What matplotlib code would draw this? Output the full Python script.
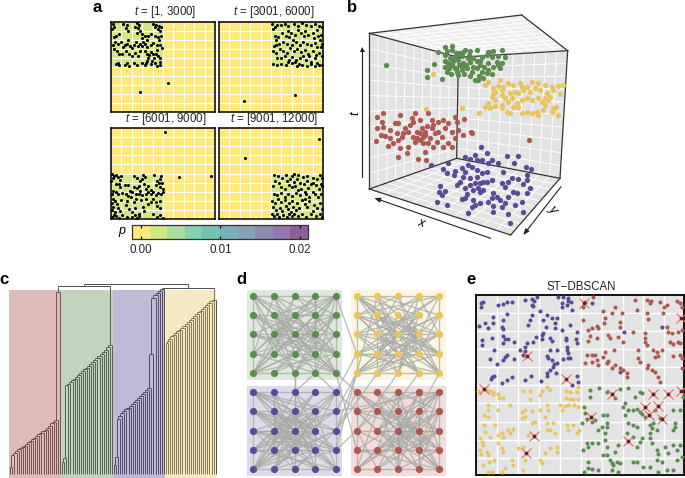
#!/usr/bin/env python3
import numpy as np
import matplotlib
matplotlib.use('Agg')
import matplotlib.pyplot as plt
from matplotlib.collections import LineCollection
from matplotlib.colors import BoundaryNorm, ListedColormap
from matplotlib.cm import ScalarMappable
from matplotlib.patches import Polygon, Rectangle

plt.rcParams['font.family'] = ['Liberation Sans', 'DejaVu Sans']
plt.rcParams['mathtext.fontset'] = 'custom'
plt.rcParams['mathtext.it'] = 'Liberation Sans:italic'
plt.rcParams['mathtext.rm'] = 'Liberation Sans'

W, H = 685, 478
GREEN, YELLOW, PURPLE, RED = '#5B8C50', '#E8C55F', '#5D4A96', '#AD5850'

# --- panel a: locations seen per time window ---
A_TITLES = ['[1, 3000]', '[3001, 6000]', '[6001, 9000]', '[9001, 12000]']
A1 = [(2,98),(3,95),(1,92),(12,98),(15,97),(14,93),(16,90),(8,87),(5,85),(3,83),(25,99),(27,97),(23,95),(26,93),(28,90),(25,88),(40,98),(43,97),(46,96),(42,94),(45,92),(48,94),(47,90),(30,87),(33,85),(36,84),(38,87),(30,82),(35,80),(42,85),(45,83),(48,85),(46,80),(4,78),(7,76),(2,74),(10,78),(13,75),(12,72),(16,80),(15,76),(18,73),(20,71),(22,75),(24,78),(28,76),(26,73),(30,73),(31,78),(33,76),(35,72),(38,74),(40,77),(44,74),(47,75),(49,71),(6,68),(8,65),(3,70),(14,68),(11,64),(17,65),(20,62),(23,66),(26,62),(28,68),(33,68),(35,65),(37,63),(36,60),(38,67),(40,64),(41,60),(39,57),(43,65),(45,62),(44,69),(47,60),(35,57),(7,55),(8,52),(5,53),(15,55),(13,52),(17,51),(22,54),(25,52),(30,55),(33,52),(34,54),(38,53),(42,54),(44,51),(47,52),(47,56),(55,32),(28,22)]
A2 = [(51,98),(54,95),(52,92),(56,97),(60,97),(63,98),(66,96),(72,98),(76,96),(80,99),(84,97),(88,96),(92,98),(96,96),(99,94),(54,85),(57,83),(55,80),(61,88),(64,85),(66,90),(69,88),(67,83),(71,80),(73,86),(76,91),(79,88),(83,90),(82,84),(86,86),(90,88),(94,91),(91,82),(95,84),(98,86),(97,80),(99,76),(55,75),(53,73),(58,76),(62,78),(65,76),(70,75),(74,78),(78,75),(81,78),(85,76),(88,74),(92,77),(94,72),(98,72),(52,68),(55,66),(59,70),(62,68),(65,66),(68,71),(72,68),(75,70),(79,67),(83,69),(86,65),(90,68),(87,62),(93,63),(96,66),(99,62),(56,60),(60,60),(63,62),(67,58),(70,61),(74,58),(78,60),(81,62),(84,58),(88,56),(92,60),(52,53),(56,52),(60,53),(64,52),(70,54),(73,56),(77,53),(80,52),(85,51),(88,53),(92,51),(96,52),(99,52),(66,56),(75,51),(94,55),(24,12),(73,19)]
A3 = [(1,49),(3,47),(2,45),(5,48),(7,46),(9,43),(0,42),(10,47),(22,47),(25,45),(31,48),(33,46),(30,44),(28,42),(41,48),(48,47),(47,44),(44,42),(46,40),(49,40),(8,38),(5,38),(9,35),(13,37),(16,37),(22,35),(25,34),(27,36),(32,38),(36,36),(34,33),(38,32),(43,37),(47,35),(50,33),(2,31),(5,30),(7,27),(1,27),(11,29),(14,28),(16,25),(18,31),(20,30),(24,28),(28,31),(27,27),(30,26),(34,28),(36,30),(38,27),(40,30),(43,26),(45,29),(48,27),(50,30),(2,22),(1,18),(4,20),(6,17),(10,21),(15,20),(19,24),(22,19),(24,22),(29,21),(34,22),(38,19),(40,22),(43,19),(47,20),(2,13),(1,10),(4,8),(7,12),(9,9),(14,15),(17,11),(20,8),(23,12),(27,6),(31,13),(32,9),(36,16),(44,14),(47,12),(3,4),(1,2),(5,3),(8,1),(11,4),(15,2),(20,2),(23,4),(25,1),(27,3),(40,5),(44,2),(47,4),(50,1),(52,96),(65,46),(96,47.5)]
A4 = [(53,48),(57,47),(61,45),(64,48),(70,47),(72,49),(76,48),(81,46),(85,47),(90,45),(94,44),(97,48),(99,45),(54,42),(58,40),(65,42),(68,44),(72,41),(75,44),(78,40),(82,38),(85,42),(88,39),(90,40),(93,37),(98,38),(52,36),(60,35),(63,33),(67,37),(70,35),(73,36),(76,32),(79,33),(83,30),(86,34),(84,28),(90,30),(96,33),(99,36),(53,28),(56,26),(60,29),(63,24),(66,27),(70,25),(74,29),(78,26),(83,22),(87,24),(92,27),(95,24),(98,28),(51,20),(54,18),(57,22),(60,19),(63,21),(67,18),(70,20),(75,18),(80,21),(83,17),(87,20),(91,15),(97,18),(52,13),(55,10),(59,12),(61,9),(64,14),(66,11),(69,8),(71,13),(74,10),(77,12),(85,13),(90,9),(94,12),(99,11),(51,6),(53,3),(56,5),(58,2),(62,4),(65,2),(67,6),(70,3),(72,5),(76,3),(80,6),(84,2),(88,5),(93,3),(97,6),(99,2),(96,87.5),(25,66.5)]
# p per quadrant: rows bottom to top
A_P = [[[2e-4, 2e-4], [2.4e-3, 2e-4]], [[2e-4, 2e-4], [2e-4, 2.4e-3]],
       [[2.4e-3, 2e-4], [2e-4, 2e-4]], [[2e-4, 2.4e-3], [2e-4, 2e-4]]]
P_COLORS = ['#FFE97C', '#D3E680', '#A8DD9B', '#85D3AE', '#72C3B3',
            '#78AFB8', '#85A0B8', '#8A8CB0', '#9478AD', '#8E5F95']
P_BOUNDS = [-0.00113 + 0.002218 * i for i in range(11)]

# --- panel b: points in the projected box, picture units ---
B_GREEN = [(300,140),(322,137),(280,155),(305,152),(332,158),(360,150),(375,152),(397,150),(432,155),(445,153),(472,150),(268,192),(247,210),(245,230),(290,237),(300,165),(315,175),(330,170),(340,180),(310,190),(322,195),(300,200),(305,215),(318,222),(330,205),(345,195),(355,188),(365,205),(350,210),(358,222),(340,225),(375,185),(385,175),(395,183),(410,170),(425,165),(440,172),(460,168),(480,172),(455,185),(445,200),(465,205),(430,190),(418,200),(405,195),(395,205),(380,215),(375,228),(390,240),(402,228),(415,235),(425,220),(440,222),(430,210),(410,215),(372,165),(350,168),(368,175),(325,182),(300,183),(312,205),(335,215),(385,200),(350,200),(362,195),(405,182),(460,195),(470,190),(320,150),(342,160),(355,155),(430,155),(400,240),(123,196)]
B_YELLOW = [(430,245),(465,240),(420,255),(445,265),(460,258),(475,262),(490,250),(505,255),(525,248),(545,260),(560,245),(580,248),(600,255),(620,260),(640,258),(655,256),(450,275),(470,285),(480,295),(495,280),(510,275),(520,280),(535,270),(555,275),(570,265),(585,270),(605,280),(625,270),(645,282),(440,290),(445,282),(430,310),(435,325),(450,318),(470,315),(490,305),(500,295),(515,310),(530,300),(545,295),(560,300),(580,295),(590,305),(610,300),(600,315),(625,325),(632,320),(640,345),(620,335),(595,330),(580,345),(560,340),(545,335),(530,340),(495,340),(485,335),(470,325),(520,320),(575,335),(600,295),(450,300),(505,320),(420,320),(615,290),(470,270),(530,262),(243,327),(352,323),(403,338),(263,222)]
B_RED = [(95,352),(115,340),(110,365),(115,380),(95,385),(108,405),(92,423),(120,408),(135,390),(150,370),(165,345),(160,370),(180,385),(200,355),(210,340),(205,365),(225,360),(250,340),(260,360),(280,365),(295,360),(310,370),(330,350),(335,365),(358,357),(338,390),(355,405),(378,395),(380,400),(135,415),(130,438),(145,430),(160,420),(175,400),(190,395),(205,410),(215,395),(230,385),(245,378),(265,375),(280,395),(300,385),(320,395),(330,415),(310,430),(295,440),(275,425),(255,415),(240,405),(225,420),(210,425),(190,440),(165,445),(185,460),(160,470),(240,455),(220,478),(243,480),(265,440),(250,430),(320,440),(235,410),(195,375),(170,410),(155,400),(215,415),(235,430),(270,400),(290,410),(260,385),(225,400),(240,395),(551,420)]
B_PURPLE = [(408,442),(425,458),(360,470),(375,478),(390,465),(395,480),(412,480),(440,480),(460,488),(487,468),(520,467),(508,488),(543,500),(557,508),(545,525),(257,495),(308,490),(293,507),(305,520),(330,512),(328,525),(350,505),(370,495),(380,500),(395,510),(410,520),(425,515),(355,530),(345,545),(375,535),(390,550),(405,548),(415,545),(400,565),(385,570),(375,555),(360,565),(335,555),(285,558),(282,575),(300,572),(290,585),(275,605),(305,615),(350,597),(365,582),(360,595),(385,600),(390,615),(405,610),(430,607),(445,618),(445,578),(440,595),(455,590),(465,600),(470,550),(480,560),(490,545),(500,535),(520,538),(535,552),(545,540),(555,565),(545,580),(515,580),(505,575),(490,590),(480,610),(510,615),(530,605),(535,635),(488,642),(495,670),(445,637),(368,640),(380,620),(470,620),(440,540),(425,545),(415,570),(405,575),(395,530),(360,515),(475,515),(430,490)]

# --- panel c: merge heights of each ladder, one per added leaf ---
C_RED = [3.9,10,10.8,12,13,13.7,14.4,15,16,16.8,17.5,18.3,19,20,20.8,21.5,22.4,23.2,24.4,25.5,26.6,27.4,28.2,96]
C_GREEN = [6.5,8.3,46.6,47.5,48.4,49.3,50.2,51,52,53,54,55,56,57,58,59,60,61,62,63,64,65.5,66.8,68]
C_PURPLE = [4.7,9,29,30.5,32,33,34,35,36,37,38,39,40,41,42,43.2,44.3,45.5,63,92.6,94,95,96.2,97.3]
C_YELLOW = [69,69.8,71,72.5,73.2,74,75,76,77,78,79,80,81,82,83,84,85,86,87,88,89,90,91,91.7]
C_TOP = [98.8, 97.9, 100]

# --- panel d: graph edges, node = 5*row + col inside its block ---
D_BORDER = [(0,1),(1,2),(2,3),(3,4),(20,21),(21,22),(22,23),(23,24),(0,5),(5,10),(10,15),(15,20),(4,9),(9,14),(14,19),(19,24)]
D_GREEN = [(0,7),(0,13),(0,18),(1,8),(1,12),(1,19),(2,9),(2,14),(2,16),(3,11),(3,18),(4,6),(4,10),(4,12),(4,17),(4,23),(5,8),(5,13),(5,19),(5,24),(6,14),(6,18),(6,22),(7,9),(7,15),(7,19),(8,14),(8,16),(8,23),(9,11),(9,17),(9,21),(10,13),(10,18),(10,24),(11,19),(11,22),(12,18),(12,20),(13,15),(13,24),(14,20),(14,22),(15,18),(15,23),(16,24),(17,20),(18,21),(19,20),(19,23),(2,20),(3,15),(6,24),(1,15),(0,24),
           (9,16),(9,22),(11,14),(10,19),(12,24),(7,24),(6,23),(5,18),(1,17),(3,13),(0,12),(0,11),(4,11),(4,16),(4,21),(13,22),(8,20),(7,20),(6,19),(5,22),(3,20),(0,16),(14,18),(8,19)]
D_YELLOW = [(0,6),(0,8),(0,12),(0,17),(0,19),(1,9),(1,13),(1,20),(2,5),(2,11),(2,18),(3,10),(3,16),(4,5),(4,11),(4,15),(4,22),(5,12),(5,17),(5,23),(6,13),(6,19),(6,21),(7,14),(7,16),(7,24),(8,10),(8,20),(8,22),(9,12),(9,18),(9,15),(10,16),(10,23),(11,13),(11,24),(12,19),(12,21),(13,20),(13,17),(14,16),(14,21),(15,17),(15,24),(16,22),(17,23),(18,20),(18,24),(19,21),(3,14),(1,17),(2,24),(6,23),
            (0,13),(0,24),(5,19),(5,14),(10,14),(10,19),(11,18),(11,22),(15,19),(15,13),(16,8),(20,8),(20,12),(20,14),(21,9),(21,13),(24,0),(23,1),(22,3),(7,19)]
D_PURPLE = [(0,7),(0,9),(0,12),(0,14),(0,18),(0,23),(1,6),(1,11),(1,17),(1,24),(2,8),(2,13),(2,20),(3,7),(3,16),(3,20),(4,8),(4,11),(4,13),(4,21),(5,7),(5,12),(5,14),(5,18),(5,24),(6,13),(6,19),(6,22),(7,15),(7,17),(7,23),(8,10),(8,16),(8,24),(9,11),(9,12),(9,20),(10,12),(10,17),(10,19),(10,22),(11,18),(11,23),(12,16),(12,24),(13,15),(13,19),(13,21),(14,17),(14,20),(14,22),(15,18),(15,24),(16,19),(16,23),(17,21),(18,20),(18,22),(19,21),(20,12),(24,6),(23,8),
            (0,8),(0,13),(5,13),(5,17),(5,19),(10,13),(10,18),(15,12),(15,8),(15,7),(16,11),(20,7),(20,8),(20,13),(21,12),(21,7),(22,12),(16,6),(11,7),(12,7),(17,8),(18,7),(13,7)]
D_RED = [(0,6),(0,12),(0,13),(0,19),(0,24),(1,7),(1,14),(1,18),(1,22),(2,9),(2,10),(2,16),(3,5),(3,12),(3,17),(3,21),(4,7),(4,11),(4,16),(4,20),(4,18),(5,9),(5,13),(5,17),(5,23),(6,14),(6,18),(6,20),(7,11),(7,19),(7,24),(8,12),(8,15),(8,22),(9,16),(9,20),(9,23),(10,14),(10,17),(10,21),(11,13),(11,18),(11,24),(12,19),(12,22),(13,16),(13,20),(13,23),(14,18),(14,21),(15,17),(15,19),(15,24),(16,22),(17,23),(18,24),(19,22),(20,12),(21,17),(22,7),
         (2,12),(2,18),(2,22),(3,13),(3,19),(4,12),(4,17),(9,12),(9,17),(9,18),(14,12),(14,17),(19,13),(19,17),(24,12),(24,13),(23,12),(23,13),(17,7),(18,8),(12,6),(13,6)]
# cross links: (block, node, block, node); blocks 0 green, 1 yellow, 2 purple, 3 red
D_CROSS = [(0,4,1,15),(0,24,3,0),(0,23,3,5),(0,22,2,12),(0,22,2,7),(0,23,2,2),(1,20,2,9),(1,21,2,14),(1,15,2,4),(1,20,2,14),(1,22,3,10),
           (1,23,3,11),(1,24,3,8),(2,9,3,4),(2,14,3,0),(2,19,3,10),(0,24,3,15),(1,20,2,19)]

# --- panel e: clustered points and noise, picture units ---
E_VLINES = [110, 173, 237, 300, 362, 425, 488, 550, 612]
E_HLINES = [128, 183, 237, 292, 346, 400, 455, 509, 563]
E_PURPLE = [(68,95),(64,100),(62,112),(115,105),(130,103),(142,95),(155,95),(195,90),(215,88),(222,92),(215,105),(220,107),(230,80),(295,80),(310,82),(325,85),(305,98),(325,92),(333,95),(320,105),(305,110),(335,120),(397,100),(75,160),(58,167),(85,175),(100,140),(100,160),(140,132),(130,150),(125,172),(130,178),(215,135),(210,150),(205,165),(240,122),(260,135),(250,150),(275,145),(290,143),(285,175),(285,160),(258,170),(330,165),(350,185),(305,180),(65,210),(95,203),(65,225),(128,198),(135,208),(130,220),(145,208),(163,215),(200,220),(195,230),(228,200),(220,215),(245,195),(250,190),(245,208),(270,205),(275,212),(318,205),(318,210),(347,208),(350,220),(320,230),(322,240),(102,240),(90,268),(110,282),(135,262),(130,270),(140,255),(162,268),(180,240),(195,243),(190,255),(260,258),(270,240),(290,240),(265,265),(275,270),(283,282),(290,280),(325,250),(323,265),(310,268),(330,265),(97,320),(92,328),(103,318),(125,338),(140,330),(155,322),(195,330),(212,318),(243,333),(262,310),(260,318),(270,300),(287,310),(352,318),(355,335),(335,345),(280,290),(480,305),(605,170),(492,185)]
E_RED = [(375,95),(400,80),(370,110),(465,110),(455,130),(435,145),(430,122),(480,155),(370,150),(410,168),(395,175),(415,175),(385,180),(433,160),(525,90),(530,120),(560,90),(570,100),(572,92),(600,95),(650,92),(660,100),(665,110),(620,105),(612,110),(560,130),(565,148),(610,130),(620,170),(625,185),(635,190),(655,185),(665,180),(487,130),(555,190),(390,198),(385,212),(410,205),(445,195),(450,205),(480,170),(475,200),(490,215),(555,205),(555,215),(560,225),(640,222),(630,215),(655,215),(660,220),(520,185),(380,255),(395,255),(405,255),(410,270),(395,275),(430,260),(435,245),(462,240),(375,280),(415,285),(440,280),(445,272),(455,295),(480,295),(490,300),(465,285),(500,310),(500,322),(535,240),(535,265),(540,275),(580,240),(590,245),(605,240),(595,258),(585,260),(565,285),(562,295),(575,300),(585,305),(595,320),(600,335),(640,258),(660,255),(665,265),(665,295)]
E_YELLOW = [(55,362),(60,370),(80,360),(90,362),(98,365),(100,372),(115,372),(118,385),(128,385),(190,362),(210,362),(210,388),(240,375),(245,362),(260,350),(270,360),(318,362),(330,365),(355,352),(352,365),(318,385),(330,388),(340,388),(355,388),(85,405),(85,420),(72,435),(85,440),(150,405),(115,420),(185,425),(195,420),(215,422),(185,445),(195,440),(240,420),(262,405),(265,420),(255,440),(305,420),(315,408),(325,405),(342,405),(355,412),(300,405),(72,465),(105,465),(75,485),(90,500),(60,505),(65,515),(70,525),(115,495),(125,488),(130,502),(145,480),(160,478),(150,490),(115,520),(205,495),(225,457),(215,460),(260,460),(280,458),(260,480),(270,480),(285,490),(320,465),(325,480),(340,465),(350,490),(358,480),(60,540),(62,552),(80,545),(85,555),(125,535),(130,545),(175,535),(190,530),(270,535),(255,548),(290,530),(292,545),(88,575),(102,570),(70,585),(85,605),(97,605),(155,570),(135,595),(125,605),(160,585),(195,570),(190,600),(240,570),(245,580)]
E_GREEN = [(390,360),(418,355),(440,365),(480,358),(525,380),(540,367),(545,368),(505,355),(390,382),(465,383),(372,410),(375,430),(365,458),(380,448),(395,455),(405,450),(430,435),(440,435),(415,480),(425,470),(440,460),(440,470),(435,490),(490,410),(495,400),(505,420),(495,435),(520,420),(530,418),(540,425),(545,432),(555,440),(520,465),(530,470),(505,460),(570,465),(580,458),(575,475),(590,480),(570,490),(645,460),(645,470),(640,480),(585,420),(640,420),(660,420),(670,380),(600,445),(380,520),(395,520),(385,530),(415,520),(370,540),(385,575),(435,510),(440,532),(475,525),(440,555),(430,555),(465,545),(450,570),(455,580),(460,585),(470,575),(480,580),(500,490),(520,500),(545,505),(540,515),(530,530),(570,505),(575,520),(590,540),(595,552),(520,575),(530,575),(550,590),(570,590),(590,570),(605,577),(615,530),(625,550),(640,525),(650,540),(660,525),(650,570),(640,600),(665,560),(385,595),(395,597),(415,600),(372,605),(455,600),(475,605),(595,605),(620,600)]
E_NOISE = [(373,100),(662,143),(202,258),(317,328),(71,356),(455,372),(578,372),(625,372),(662,362),(555,410),(593,408),(568,435),(605,448),(392,442),(222,497),(505,512),(197,550)]


def px_axes(fig, x0, y0, x1, y1):
    """axes placed by picture pixels, y counted from the top"""
    ax = fig.add_axes([x0 / W, 1 - y1 / H, (x1 - x0) / W, (y1 - y0) / H])
    ax.set_xticks([])
    ax.set_yticks([])
    return ax


def px_text(fig, x, y, s, **kw):
    kw.setdefault('ha', 'center')
    kw.setdefault('va', 'center')
    fig.text(x / W, 1 - y / H, s, **kw)


def xy(pts):
    return [p[0] for p in pts], [p[1] for p in pts]


def panel_a(fig, cmap, norm):
    boxes = [(111, 22, 215, 112), (219, 22, 323, 112), (111, 128, 215, 219), (219, 128, 323, 219)]
    centres = [(165, 12), (274, 12), (166, 119), (274, 119)]
    for box, c, title, pts, p in zip(boxes, centres, A_TITLES, [A1, A2, A3, A4], A_P):
        ax = px_axes(fig, *box)
        ax.pcolormesh([0, 50, 100], [0, 50, 100], p, cmap=cmap, norm=norm)
        for v in range(10, 100, 10):
            ax.axvline(v, color='white', lw=0.85)
            ax.axhline(v, color='white', lw=0.85)
        x, y = xy(pts)
        ax.plot(x, y, 'o', color='black', ms=2.2, mew=0, clip_on=False, zorder=5)
        ax.set_xlim(0, 100)
        ax.set_ylim(0, 100)
        for s in ax.spines.values():
            s.set_linewidth(1.1)
        px_text(fig, c[0], c[1], r'$\mathit{t}$ = ' + title, fontsize=8.3, color='#222222')

    cax = px_axes(fig, 132, 225, 308, 239)
    cb = fig.colorbar(ScalarMappable(norm=norm, cmap=cmap), cax=cax, orientation='horizontal',
                      spacing='proportional', drawedges=False)
    cb.set_ticks([0, 0.01, 0.02], labels=['0.00', '0.01', '0.02'])
    cax.tick_params(axis='x', direction='in', length=2, width=0.9, top=True, bottom=True,
                    labelsize=8.3, pad=3.5, labelcolor='#222222')
    cb.minorticks_off()
    cb.outline.set_linewidth(0.9)
    cb.outline.set_edgecolor('#333333')
    px_text(fig, 122, 232, r'$\mathit{p}$', fontsize=9)


def wall(ax, corners, color='#E3E3E3', n=10):
    a, b, c, d = [np.array(k, float) for k in corners]
    ax.add_patch(Polygon(corners, closed=True, fc=color, ec='none', zorder=1))
    for i in range(1, n):
        f = i / n
        p, q = a + (b - a) * f, d + (c - d) * f
        ax.plot([p[0], q[0]], [p[1], q[1]], color='white', lw=0.7, zorder=2)
        p, q = a + (d - a) * f, b + (c - b) * f
        ax.plot([p[0], q[0]], [p[1], q[1]], color='white', lw=0.7, zorder=2)


def panel_b(fig):
    ax = px_axes(fig, 345, 0, 585, 260)
    ax.axis('off')
    ax.set_xlim(0, 720)
    ax.set_ylim(780, 0)
    A, B, C, D = (73, 100), (340, 172), (335, 475), (73, 567)
    E, F, G, T = (668, 152), (645, 535), (497, 705), (530, 45)
    wall(ax, [A, B, C, D])
    wall(ax, [B, E, F, C])
    wall(ax, [D, C, F, G])
    wall(ax, [A, T, E, B], color='#EDEDED')
    for p, q in [(A, B), (B, E), (B, C), (A, D), (E, F), (D, C), (C, F), (D, G), (G, F), (A, T), (T, E)]:
        ax.plot([p[0], q[0]], [p[1], q[1]], color='#333333', lw=0.9, zorder=3)
    for pts, col in [(B_GREEN, GREEN), (B_YELLOW, YELLOW), (B_RED, RED), (B_PURPLE, PURPLE)]:
        x, y = xy(pts)
        ax.plot(x, y, 'o', color=col, ms=3.8, mew=0, zorder=4)
    arrow = dict(arrowstyle='-|>,head_width=0.14,head_length=0.35', color='#222222', lw=0.8,
                 shrinkA=0, shrinkB=0)
    # the t arrow as a line with a marker head
    ax.plot([52, 52], [150, 532], color='#222222', lw=0.8, zorder=5)
    ax.plot([52], [146], marker='^', color='#222222', ms=3.6, mew=0, zorder=5)
    ax.annotate('', xy=(88, 594), xytext=(437, 715), arrowprops=arrow)
    ax.annotate('', xy=(535, 705), xytext=(648, 560), arrowprops=arrow)
    ax.text(32, 340, r'$\mathit{t}$', rotation=90, fontsize=9, ha='center', va='center')
    ax.text(230, 670, r'$\mathit{x}$', rotation=-18, fontsize=9, ha='center', va='center')
    ax.text(622, 635, r'$\mathit{y}$', rotation=-50, fontsize=9, ha='center', va='center')


def ladder(segs, heights, first):
    """adds one leaf at a time, returns x and height of the top node"""
    cx, top = first, 0
    for i, h in enumerate(heights):
        leaf = first + i + 1
        segs.append([(cx, top), (cx, h)])
        segs.append([(leaf, 0), (leaf, h)])
        segs.append([(cx, h), (leaf, h)])
        cx, top = (cx + leaf) / 2, h
    return cx, top


def panel_c(fig):
    ax = px_axes(fig, 9, 280, 217, 478)
    ax.axis('off')
    ax.set_xlim(-0.65, 99.65)
    ax.set_ylim(-2.1, 102.1)
    segs = []
    tops = [ladder(segs, h, i * 25) for i, h in enumerate([C_RED, C_GREEN, C_PURPLE, C_YELLOW])]
    centres = []
    for (l, r), h in zip([(tops[0], tops[1]), (tops[2], tops[3])], C_TOP[:2]):
        segs.append([(l[0], l[1]), (l[0], h)])
        segs.append([(r[0], r[1]), (r[0], h)])
        segs.append([(l[0], h), (r[0], h)])
        centres.append(((l[0] + r[0]) / 2, h))
    segs.append([(centres[0][0], centres[0][1]), (centres[0][0], C_TOP[2])])
    segs.append([(centres[1][0], centres[1][1]), (centres[1][0], C_TOP[2])])
    segs.append([(centres[0][0], C_TOP[2]), (centres[1][0], C_TOP[2])])
    ax.add_collection(LineCollection(segs, colors='#333333', linewidths=0.6, zorder=2))
    for i, (col, alpha) in enumerate([(RED, 0.4), (GREEN, 0.37), (PURPLE, 0.38), (YELLOW, 0.37)]):
        ax.add_patch(Rectangle((i * 25 - 0.65, -2.1), 25, 98.9, fc=col, ec='none', alpha=alpha, zorder=3))


def panel_d(fig):
    ax = px_axes(fig, 247, 290, 446, 476)
    ax.axis('off')
    # one unit = one node step, blocks are 5 steps apart
    ax.set_xlim(-0.31, 9.32)
    ax.set_ylim(9.35, -0.31)
    off = [(0, 0), (5.0, 0), (0, 4.99), (5.0, 4.99)]
    rects = [(GREEN, 0.2), (YELLOW, 0.17), (PURPLE, 0.2), (RED, 0.2)]
    for (ox, oy), (col, alpha) in zip(off, rects):
        ax.add_patch(Rectangle((ox - 0.3, oy - 0.31), 4.61, 4.67, fc=col, ec='none', alpha=alpha, zorder=1))

    def node(block, n):
        return off[block][0] + n % 5, off[block][1] + n // 5

    segs = []
    for b, edges in enumerate([D_GREEN, D_YELLOW, D_PURPLE, D_RED]):
        segs += [[node(b, i), node(b, j)] for i, j in edges + D_BORDER]
    segs += [[node(a, i), node(b, j)] for a, i, b, j in D_CROSS]
    ax.add_collection(LineCollection(segs, colors='#A9ABA6', linewidths=1.0, alpha=0.75, zorder=2))
    for b, col in enumerate([GREEN, YELLOW, PURPLE, RED]):
        pts = [node(b, n) for n in range(25)]
        x, y = xy(pts)
        ax.plot(x, y, 'o', color=col, ms=5.2, mew=0, zorder=3)


def panel_e(fig):
    ax = px_axes(fig, 476, 295, 684, 475)
    ax.set_facecolor('#E3E3E3')
    ax.set_xlim(48, 672)
    ax.set_ylim(615, 75)
    for v in E_VLINES:
        ax.axvline(v, color='white', lw=1)
    for v in E_HLINES:
        ax.axhline(v, color='white', lw=1)
    for pts, col in [(E_PURPLE, PURPLE), (E_RED, RED), (E_YELLOW, YELLOW), (E_GREEN, GREEN)]:
        x, y = xy(pts)
        ax.plot(x, y, 'o', color=col, ms=2.9, mew=0, zorder=3)
    x, y = xy(E_NOISE)
    ax.plot(x, y, 'x', color='#F0655F', ms=6.5, mew=0.8, zorder=4, clip_on=False)
    ax.plot(x, y, 'o', color='#6A2028', ms=2.8, mew=0, zorder=5, clip_on=False)
    for s in ax.spines.values():
        s.set_linewidth(1.3)
    px_text(fig, 581, 287, 'ST\u2212DBSCAN', fontsize=8.3, color='#222222')


def main():
    fig = plt.figure(figsize=(W / 100, H / 100), dpi=100)
    cmap = ListedColormap(P_COLORS)
    norm = BoundaryNorm(P_BOUNDS, cmap.N)
    panel_a(fig, cmap, norm)
    panel_b(fig)
    panel_c(fig)
    panel_d(fig)
    panel_e(fig)
    for s, x, y in [('a', 97, 8), ('b', 352, 8), ('c', 4, 280), ('d', 241, 279), ('e', 471, 279)]:
        px_text(fig, x, y, s, fontsize=12, fontweight='bold')
    fig.savefig('out.png', dpi=100)


if __name__ == "__main__":
    main()
